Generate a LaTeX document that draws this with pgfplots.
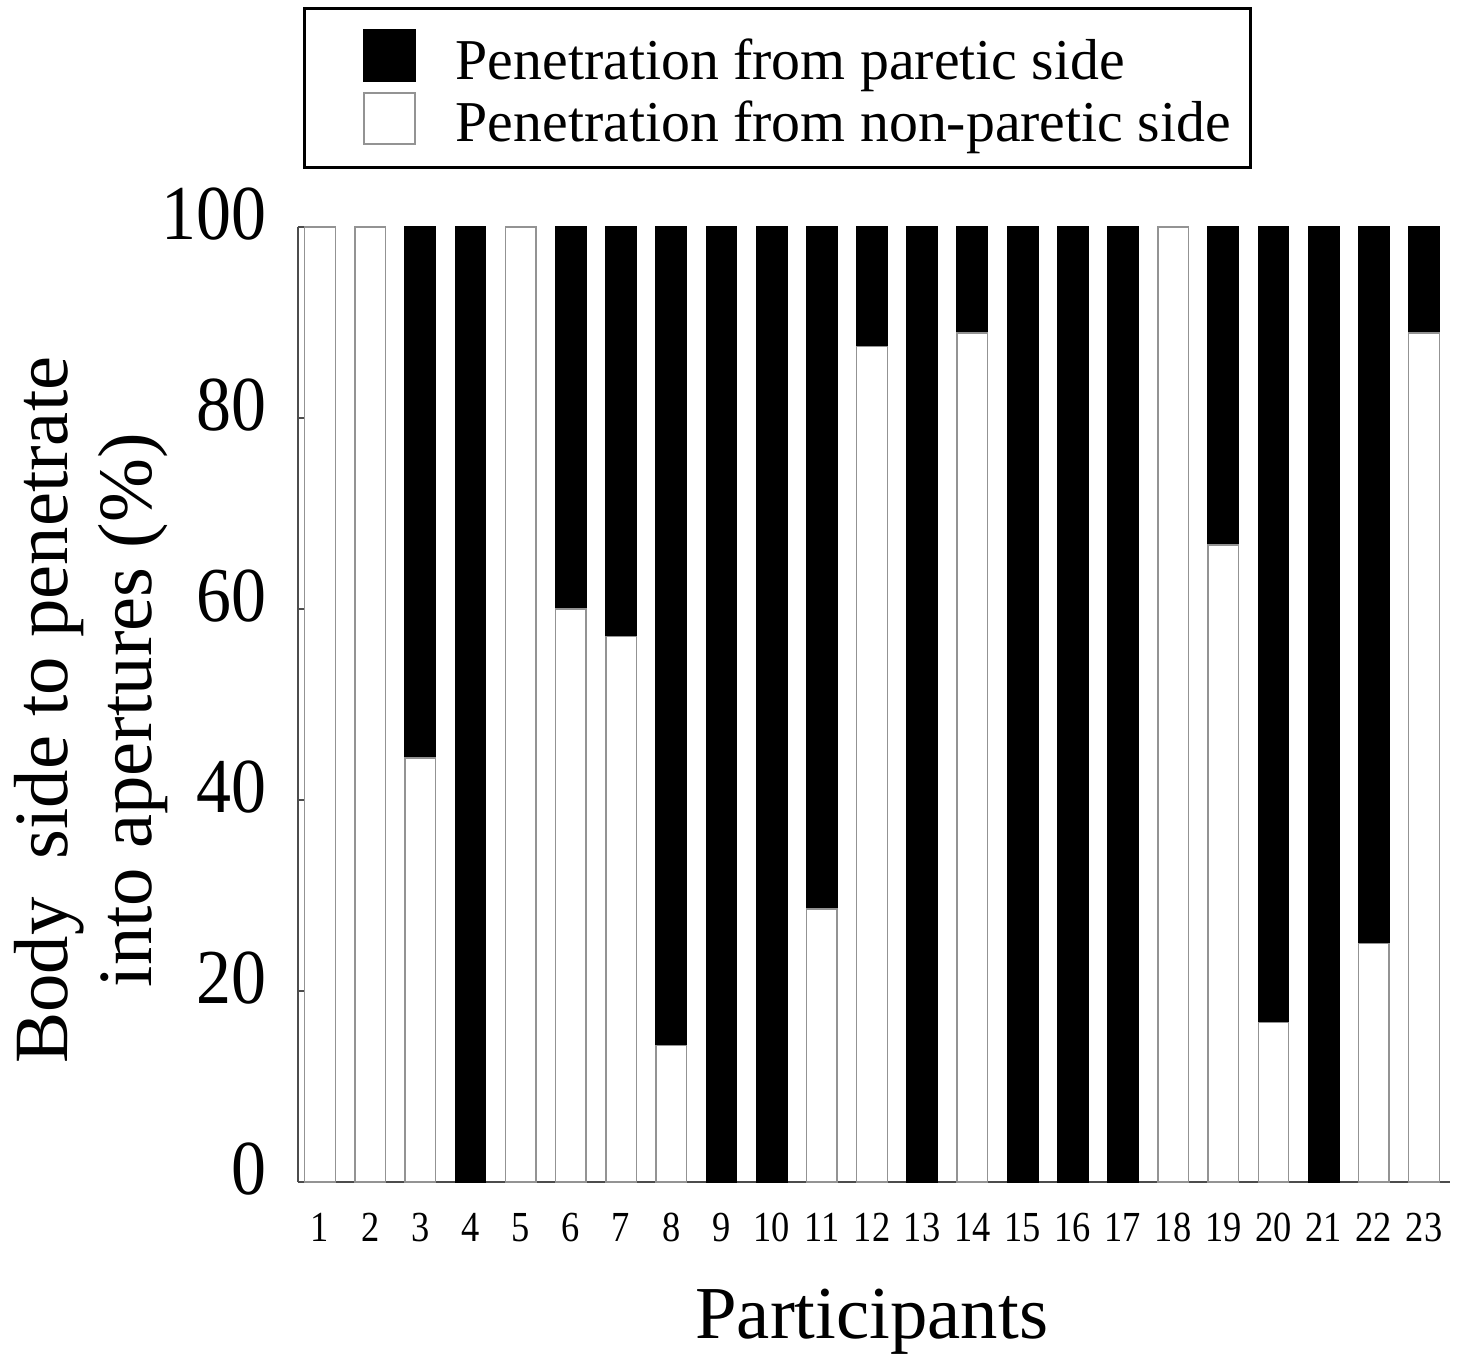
\documentclass[border=0pt]{standalone}
\usepackage{fontspec}
\setmainfont{Liberation Serif}
\usepackage{graphicx}
\usepackage{pgfplots}
\pgfplotsset{compat=1.18}
\newcommand\xl[1]{\scalebox{0.85}[1]{#1}}
\newcommand\yl[1]{\scalebox{0.9}[1]{#1}}
\begin{document}
\begin{tikzpicture}
\path[use as bounding box] (-149bp,-86bp) rectangle (581.5bp,591bp);
\begin{axis}[
  at={(0,0)}, anchor=south west,
  scale only axis, width=576bp, height=477.5bp,
  xmin=0.5616, xmax=23.518, ymin=0, ymax=100,
  clip=false,
  ybar stacked, bar width=15.25bp,
  axis lines*=left,
  axis line style={black!70, line width=1bp},
  xtick={1,...,23},
  xticklabels={\xl{1},\xl{2},\xl{3},\xl{4},\xl{5},\xl{6},\xl{7},\xl{8},\xl{9},\xl{10},\xl{11},\xl{12},\xl{13},\xl{14},\xl{15},\xl{16},\xl{17},\xl{18},\xl{19},\xl{20},\xl{21},\xl{22},\xl{23}},
  x tick style={draw=none},
  xticklabel style={font=\fontsize{21.5}{24}\selectfont, anchor=north, inner sep=0pt, yshift=-15.5bp},
  ytick={0,20,40,60,80,100},
  yticklabels={\yl{0},\yl{20},\yl{40},\yl{60},\yl{80},\yl{100}},
  y tick style={black!70, line width=0.6bp},
  tick align=inside,
  major tick length=10bp,
  yticklabel style={font=\fontsize{39}{44}\selectfont, anchor=east, inner sep=0pt, xshift=-15.5bp, yshift=6.25bp},
  xlabel={Participants},
  xlabel style={at={(axis description cs:0.498,0)}, anchor=base, yshift=-78bp, inner sep=0pt, font=\fontsize{37.5}{42}\selectfont},
  ylabel={Body\ \ side to penetrate\\into apertures (\%)},
  ylabel style={at={(axis description cs:-0.1797,0.494)}, anchor=center, rotate=0, align=center, inner sep=0pt, font=\fontsize{38.5}{42.5}\selectfont},
  reverse legend,
  legend style={at={(axis description cs:0.0043,1.2304)}, anchor=north west,
    draw=black, line width=1.5bp, inner xsep=10bp, inner ysep=7.5bp,
    font=\fontsize{29}{34}\selectfont, row sep=5bp,
    nodes={inner sep=0pt},
    cells={anchor=base west},
    /tikz/every odd column/.append style={column sep=20bp}},
]
\addplot[fill=white, draw=gray!85, line width=0.7bp,
  legend image code/.code={\path (0bp,0bp) (0bp,-5bp); \draw[fill=white, draw=gray!85, line width=0.7bp] (19.5bp,-1bp) rectangle (45bp,24.5bp);}]
  coordinates {(1,100) (2,100) (3,44.4) (4,0) (5,100) (6,60) (7,57.1) (8,14.3) (9,0) (10,0) (11,28.6) (12,87.5) (13,0) (14,88.9) (15,0) (16,0) (17,0) (18,100) (19,66.7) (20,16.7) (21,0) (22,25) (23,88.9)};
\addlegendentry{Penetration from non-paretic side}
\addplot[fill=black, draw=black, line width=0.7bp,
  legend image code/.code={\path (0bp,0bp) (0bp,27.5bp); \draw[fill=black, draw=black, line width=0.7bp] (19.5bp,-1bp) rectangle (45bp,24.5bp);}]
  coordinates {(1,0) (2,0) (3,55.6) (4,100) (5,0) (6,40) (7,42.9) (8,85.7) (9,100) (10,100) (11,71.4) (12,12.5) (13,100) (14,11.1) (15,100) (16,100) (17,100) (18,0) (19,33.3) (20,83.3) (21,100) (22,75) (23,11.1)};
\addlegendentry{Penetration from paretic side}
\end{axis}
\end{tikzpicture}
\end{document}
